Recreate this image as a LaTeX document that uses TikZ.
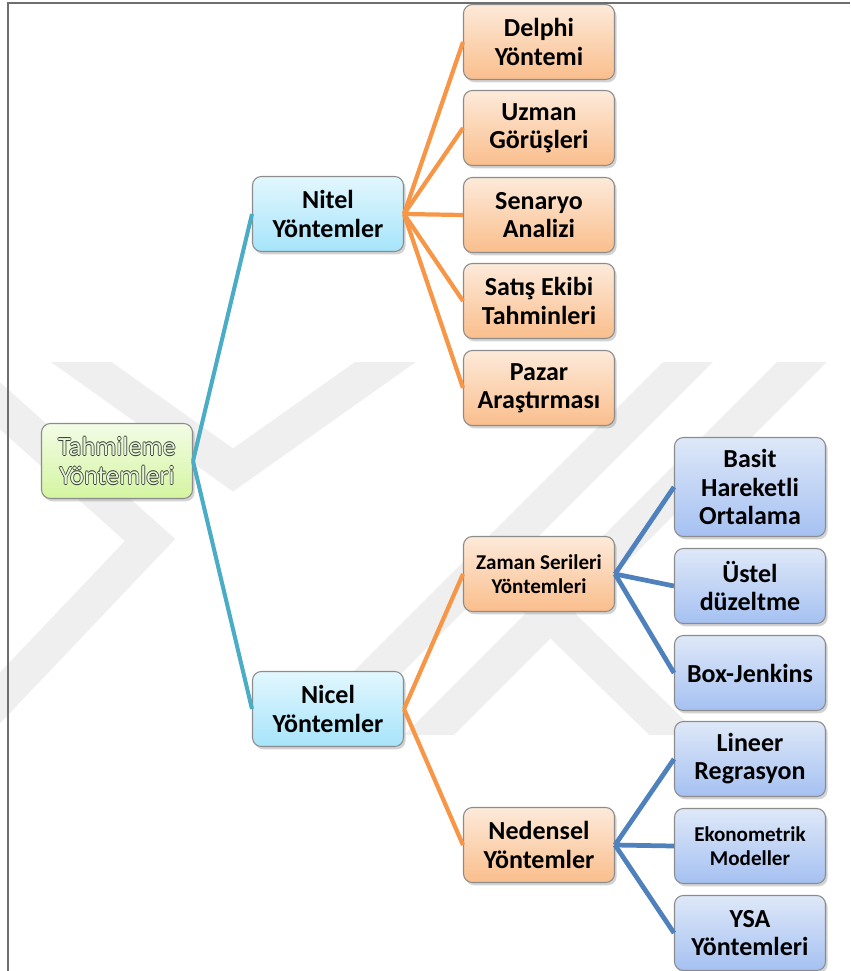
\documentclass[tikz,border=0pt]{standalone}
\usepackage{fontspec}
\setmainfont{Carlito}
\usepackage{tikz}
\usetikzlibrary{shadows,positioning}
\definecolor{kutuEdge}  {RGB}{140, 140, 140}
\definecolor{frameGray} {RGB}{110, 110, 110}
\definecolor{markGray}  {RGB}{239, 239, 239}
\definecolor{linkTeal}  {RGB}{75,  172, 198}
\definecolor{linkOrange}{RGB}{247, 150,  70}
\definecolor{linkBlue}  {RGB}{79,  129, 189}
\definecolor{cyanTop}   {RGB}{226, 247, 254}
\definecolor{cyanBot}   {RGB}{166, 228, 250}
\definecolor{orangeTop} {RGB}{253, 234, 218}
\definecolor{orangeBot} {RGB}{250, 190, 140}
\definecolor{blueTop}   {RGB}{222, 232, 248}
\definecolor{blueBot}   {RGB}{165, 193, 242}
\definecolor{greenTop}  {RGB}{243, 252, 230}
\definecolor{greenBot}  {RGB}{212, 245, 160}
\definecolor{hollowEdge}{RGB}{50,   56,  50}
\definecolor{hollowFill}{RGB}{232, 246, 215}

% icleri bos harfler
\newcommand{\hollow}[1]{\leavevmode
  \rlap{\color{hollowEdge}\kern-.4pt#1}%
  \rlap{\color{hollowEdge}\kern.4pt#1}%
  \rlap{\color{hollowEdge}\raisebox{.4pt}{#1}}%
  \rlap{\color{hollowEdge}\raisebox{-.4pt}{#1}}%
  {\color{hollowFill}#1}}

\tikzset{
  kutu/.style={draw=kutuEdge,line width=0.6pt,rounded corners=5pt,
               minimum width=3.02cm,minimum height=1.5cm,align=center,
               font=\bfseries\fontsize{14.8}{16}\selectfont,
               drop shadow={shadow xshift=1.2pt,shadow yshift=-1.6pt,opacity=0.35}},
  ana/.style={kutu,top color=greenTop,bottom color=greenBot,
              font=\fontsize{15}{16.5}\selectfont},
  seviye1/.style={kutu,top color=cyanTop,bottom color=cyanBot},
  seviye2/.style={kutu,top color=orangeTop,bottom color=orangeBot},
  seviye3/.style={kutu,top color=blueTop,bottom color=blueBot},
  kucuk/.style={font=\bfseries\fontsize{12}{13.6}\selectfont},
  iz/.style={markGray,line width=20pt,line join=miter},
  bagTeal/.style={linkTeal,line width=2.3pt},
  bagOrange/.style={linkOrange,line width=2.4pt},
  bagBlue/.style={linkBlue,line width=2.7pt}
}

\begin{document}
\begin{tikzpicture}[x=0.02cm,y=-0.02cm]
        \useasboundingbox (0,0) rectangle (850,971);

        % Filigran
        \begin{scope}
          \clip (0,362) rectangle (850,734);
          \draw[iz] (-20,290) -- (233,470) -- (480,295);
          \draw[iz] (-40,370) -- (150,540) -- (-40,740);
          \draw[iz] (720,330) -- (290,760);
          \draw[iz] (834,330) -- (404,760);
          \draw[iz] (480,545) -- (700,760);
        \end{scope}

        % Cerceve
        \draw[frameGray,line width=0.9pt] (8,971) -- (8,3) -- (850,3);

        % Kok
        \node[ana] (tah) at (117,461){\hollow{Tahmileme}\\\hollow{Yöntemleri}};

        % Nitel / Nicel
        \node[seviye1] (nitel) at (328,214){Nitel\\Yöntemler};
        \node[seviye1] (nicel) at (328,709){Nicel\\Yöntemler};

        % Nitel yontemler
        \foreach \ad/\y/\metin in {delphi/42/{Delphi\\Yöntemi},
                                   uzman/128/{Uzman\\Görüşleri},
                                   senaryo/215/{Senaryo\\Analizi},
                                   satis/301/{Satış Ekibi\\Tahminleri},
                                   pazar/388/{Pazar\\Araştırması}}{
          \node[seviye2] (\ad) at (539,\y){\metin};
        }

        % Nicel yontemler
        \node[seviye2,kucuk] (zaman) at (539,574){Zaman Serileri\\Yöntemleri};
        \node[seviye2] (neden) at (539,845){Nedensel\\Yöntemler};

        % Alt yontemler
        \node[seviye3,minimum height=1.98cm] (basit) at (750,487){Basit\\Hareketli\\Ortalama};
        \node[seviye3] (ustel) at (750,586){Üstel\\düzeltme};
        \node[seviye3] (box) at (750,673){Box-Jenkins};
        \node[seviye3] (lineer) at (750,759){Lineer\\Regrasyon};
        \node[seviye3,kucuk] (ekono) at (750,846){Ekonometrik\\Modeller};
        \node[seviye3] (ysa) at (750,933){YSA\\Yöntemleri};

        % Baglantilar
        \draw[bagTeal] (tah.east) -- (nitel.west);
        \draw[bagTeal] (tah.east) -- (nicel.west);
        \foreach \ad in {delphi,uzman,senaryo,satis,pazar}{
          \draw[bagOrange] (nitel.east) -- (\ad.west);
        }
        \draw[bagOrange] (nicel.east) -- (zaman.west);
        \draw[bagOrange] (nicel.east) -- (neden.west);
        \foreach \ad in {basit,ustel,box}{
          \draw[bagBlue] (zaman.east) -- (\ad.west);
        }
        \foreach \ad in {lineer,ekono,ysa}{
          \draw[bagBlue] (neden.east) -- (\ad.west);
        }
      \end{tikzpicture}
\end{document}
